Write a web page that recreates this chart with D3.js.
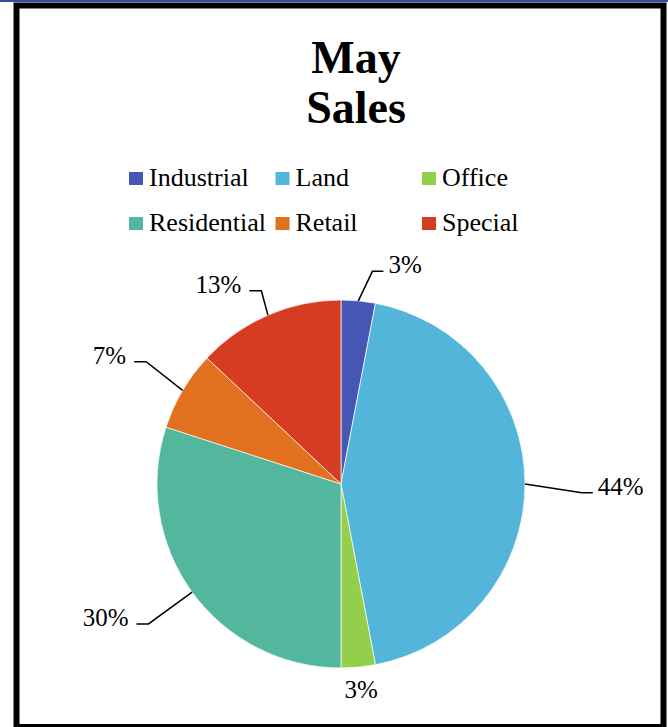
<!DOCTYPE html>
<html>
<head>
<meta charset="utf-8">
<script src="https://cdn.jsdelivr.net/npm/d3@7"></script>
<style>
  body { margin: 0; background: #fff; }
  svg { display: block; }
</style>
</head>
<body>
<svg id="chart"></svg>
<script>
const width = 668, height = 727;

// data
const categories = ["Industrial", "Land", "Office", "Residential", "Retail", "Special"];
const sales = [3, 44, 3, 30, 7, 13];
const colors = ["#4557b2", "#53b5d9", "#93cf4b", "#53b79d", "#e1711f", "#d63c22"];
const titleLines = ["May", "Sales"];

// label layout: elbow radius per slice (0 = no leader line) and angle nudge in degrees
const labelRadius = [215, 241, 0, 238, 230, 209];
const labelNudge = [3, 2.1, 0, 0, 1.5, 1];

const svg = d3.select("#chart").attr("width", width).attr("height", height)
    .attr("font-family", "Liberation Serif");

// top blue strip and black frame
svg.append("rect").attr("x", 0).attr("y", 0).attr("width", width).attr("height", 2).attr("fill", "#3a4e9d");
svg.append("rect")
    .attr("x", 16.5).attr("y", 5.5).attr("width", 647).attr("height", 721.5)
    .attr("fill", "#fff").attr("stroke", "#000").attr("stroke-width", 6);

// title
svg.selectAll(".title")
    .data(titleLines)
    .enter()
    .append("text")
    .attr("class", "title")
    .attr("x", 356)
    .attr("y", (d, i) => 73 + i * 50)
    .attr("text-anchor", "middle")
    .attr("font-family", "Liberation Serif")
    .attr("font-size", 46)
    .attr("font-weight", "bold")
    .text(d => d);

// legend
const legend = svg.selectAll(".legend")
    .data(categories)
    .enter()
    .append("g")
    .attr("class", "legend")
    .attr("transform", (d, i) => `translate(${129 + (i % 3) * 146.5},${172 + Math.floor(i / 3) * 45})`);

legend.append("rect")
    .attr("width", 14).attr("height", 13)
    .attr("fill", (d, i) => colors[i]);

legend.append("text")
    .attr("x", 20)
    .attr("y", 14)
    .attr("font-family", "Liberation Serif")
    .attr("font-size", 26)
    .text(d => d);

// pie
const cx = 341, cy = 484, r = 184;
const pie = d3.pie().sort(null).value(d => d)(sales);
const arc = d3.arc().innerRadius(0).outerRadius(r);
const total = d3.sum(sales);

const g = svg.append("g").attr("transform", `translate(${cx},${cy})`);

g.selectAll("path")
    .data(pie)
    .enter()
    .append("path")
    .attr("d", arc)
    .attr("fill", (d, i) => colors[i])
    .attr("stroke", "#fff")
    .attr("stroke-width", 0.7);

const polar = (a, rad) => [rad * Math.sin(a), -rad * Math.cos(a)];

pie.forEach((d, i) => {
    const mid = (d.startAngle + d.endAngle) / 2;
    const pct = Math.round(d.value / total * 100) + "%";
    if (!labelRadius[i]) {
        const p = polar(mid, r + 31);
        g.append("text")
            .attr("x", p[0]).attr("y", p[1])
            .attr("text-anchor", "middle")
            .attr("font-family", "Liberation Serif")
            .attr("font-size", 25)
            .text(pct);
        return;
    }
    const right = mid < Math.PI;
    const p0 = polar(mid, r);
    const p1 = polar(mid + labelNudge[i] * Math.PI / 180, labelRadius[i]);
    const p2 = [p1[0] + (right ? 11 : -12), p1[1]];
    g.append("polyline")
        .attr("points", [p0, p1, p2].map(p => p.join(",")).join(" "))
        .attr("fill", "none")
        .attr("stroke", "#000")
        .attr("stroke-width", 1.5);
    g.append("text")
        .attr("x", p2[0] + (right ? 5 : -8))
        .attr("y", p1[1] + 2)
        .attr("text-anchor", right ? "start" : "end")
        .attr("font-family", "Liberation Serif")
        .attr("font-size", 25)
        .text(pct);
});
</script>
</body>
</html>
